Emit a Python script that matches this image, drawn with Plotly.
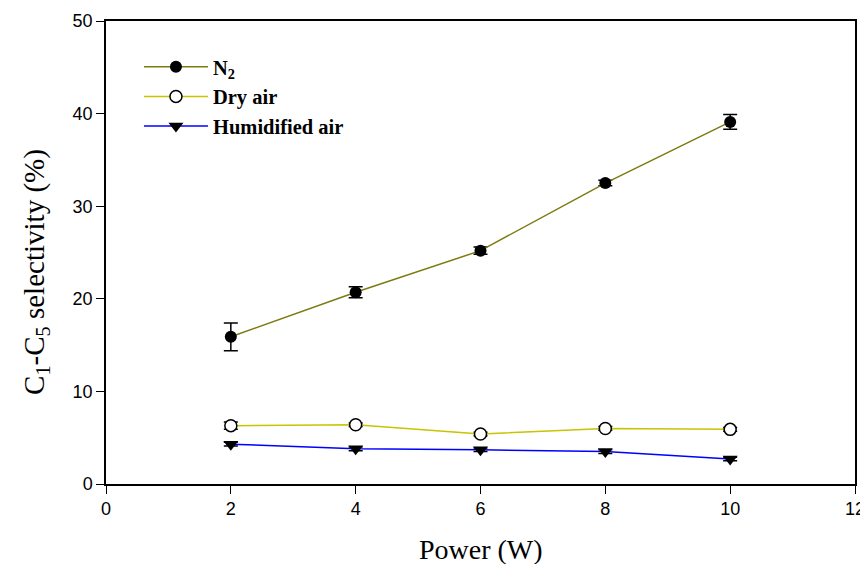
import plotly.graph_objects as go

power = [2, 4, 6, 8, 10]
n2 = [15.9, 20.7, 25.2, 32.5, 39.1]
n2_err = [1.5, 0.6, 0.4, 0.3, 0.8]
dry = [6.3, 6.4, 5.4, 6.0, 5.9]
dry_err = [0.4, 0.2, 0.2, 0.2, 0.2]
hum = [4.3, 3.8, 3.7, 3.5, 2.7]
hum_err = [0.2, 0.2, 0.2, 0.2, 0.2]

fig = go.Figure()
fig.add_trace(go.Scatter(
    x=power, y=n2, name="<b>N<sub>2</sub></b>", mode="lines+markers",
    line=dict(color="#7d7a10", width=1.5),
    marker=dict(symbol="circle", size=12, color="black"),
    error_y=dict(type="data", array=n2_err, color="black", thickness=1.5, width=7),
))
fig.add_trace(go.Scatter(
    x=power, y=dry, name="<b>Dry air</b>", mode="lines+markers",
    line=dict(color="#c8c400", width=1.5),
    marker=dict(symbol="circle", size=12, color="white", line=dict(color="black", width=1.5)),
    error_y=dict(type="data", array=dry_err, color="black", thickness=1.5, width=7),
))
fig.add_trace(go.Scatter(
    x=power, y=hum, name="<b>Humidified air</b>", mode="lines+markers",
    line=dict(color="#0000ff", width=1.5),
    marker=dict(symbol="triangle-down", size=13, color="black"),
    error_y=dict(type="data", array=hum_err, color="black", thickness=1.5, width=7),
))

fig.update_layout(
    width=860, height=556,
    margin=dict(l=98, r=13, t=13, b=80),
    paper_bgcolor="white", plot_bgcolor="white",
    showlegend=True,
    legend=dict(x=0.044, y=0.944, xanchor="left", yanchor="top",
                font=dict(family="Liberation Serif", size=20.5, color="black"),
                bgcolor="rgba(0,0,0,0)", tracegroupgap=0, itemwidth=64),
    xaxis=dict(range=[0, 12], dtick=2, showgrid=False, zeroline=False, automargin=False,
               showline=True, linecolor="black", linewidth=1.5, mirror=True,
               ticks="outside", ticklen=8, tickcolor="black",
               tickfont=dict(family="Liberation Sans", size=18, color="black")),
    yaxis=dict(range=[0, 50], dtick=10, showgrid=False, zeroline=False, automargin=False,
               showline=True, linecolor="black", linewidth=1.5, mirror=True,
               ticks="outside", ticklen=8, tickcolor="black",
               tickfont=dict(family="Liberation Sans", size=18, color="black")),
    annotations=[
        dict(text="C<sub>1</sub>-C<sub>5</sub> selectivity (%)", textangle=-90,
             xref="paper", yref="paper", x=-0.0935, y=0.458,
             xanchor="center", yanchor="middle", showarrow=False,
             font=dict(family="Liberation Serif", size=29, color="black")),
        dict(text="Power (W)",
             xref="paper", yref="paper", x=0.5, y=-0.1425,
             xanchor="center", yanchor="middle", showarrow=False,
             font=dict(family="Liberation Serif", size=28, color="black")),
    ],
)

fig.write_html("out.html")
